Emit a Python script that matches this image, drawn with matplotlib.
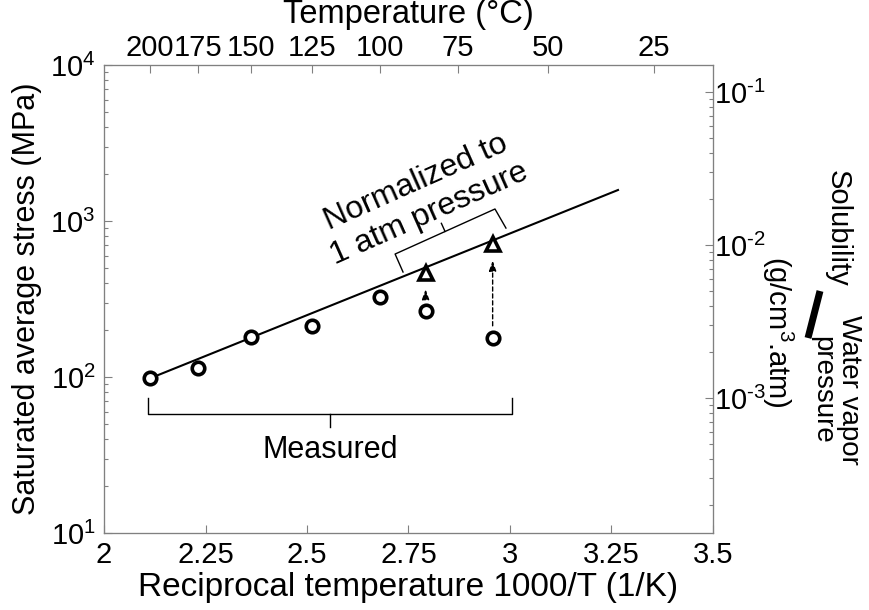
import numpy as np
import matplotlib.pyplot as plt
from matplotlib.ticker import FixedLocator, LogLocator, NullFormatter, FuncFormatter

plt.rcParams['font.family'] = ['Liberation Sans', 'DejaVu Sans']
plt.rcParams['mathtext.fontset'] = 'custom'
plt.rcParams['mathtext.rm'] = 'Liberation Sans'
plt.rcParams['mathtext.default'] = 'regular'

# measured saturated stress vs. test temperature
temp_c = [200, 175, 150, 125, 100, 85, 65]
stress_measured = [98.6, 115, 180, 212, 326, 266, 177]

# 85 and 65 C points normalized to 1 atm water vapor pressure
temp_norm = [85, 65]
stress_norm = [467, 712]

# Arrhenius fit line (end points)
fit_x = [2.113, 3.266]
fit_y = [98, 1580]

top_ticks_c = [200, 175, 150, 125, 100, 75, 50, 25]
bottom_ticks = [2, 2.25, 2.5, 2.75, 3, 3.25, 3.5]
bottom_labels = ['2', '2.25', '2.5', '2.75', '3', '3.25', '3.5']


def recip(t):
    return 1000.0 / (np.asarray(t, dtype=float) + 273.15)


def pow10(v, pos):
    e = int(round(np.log10(v)))
    if e < 0:
        return r'$10^{\text{-}%d}$' % (-e)
    return r'$10^{%d}$' % e


W, H = 870, 610
fig = plt.figure(figsize=(W / 100, H / 100), dpi=100)
ax = fig.add_axes([104 / W, 1 - 533 / H, (713 - 104) / W, (533 - 65) / H])

frame = '#808080'
ax.set_xlim(2, 3.5)
ax.set_yscale('log')
ax.set_ylim(10, 1e4)
for s in ax.spines.values():
    s.set_color(frame)

# fit line + data
ax.plot(fit_x, fit_y, color='black', lw=1.5, zorder=2)
ax.plot(recip(temp_c), stress_measured, 'o', ms=9, mfc='white', mec='black',
        mew=2.6, zorder=4)
ax.plot(recip(temp_norm), stress_norm, '^', ms=10, mfc='white', mec='black',
        mew=2.6, zorder=4)

# dashed arrows measured -> normalized
for t, lo, hi in zip(temp_norm, stress_measured[-2:], stress_norm):
    x = float(recip(t))
    ax.annotate('', xy=(x, hi), xytext=(x, lo),
                arrowprops=dict(arrowstyle='-|>,head_length=0.5,head_width=0.18',
                                linestyle=(0, (3, 2)), lw=1, color='black',
                                shrinkA=9, shrinkB=12, mutation_scale=12),
                zorder=3)

# "Measured" bracket
ax.plot([2.108, 2.108, 3.005, 3.005], [73, 58, 58, 73], color='black', lw=1)
ax.plot([2.557, 2.557], [58, 47.7], color='black', lw=1)
ax.text(2.557, 34, 'Measured', fontsize=22, ha='center', va='center')

# "Normalized" bracket
ax.plot([2.7365, 2.717, 2.963, 2.990], [471, 614, 1194, 901], color='black', lw=1)
ax.plot([2.840, 2.831], [857, 966], color='black', lw=1)
ax.text(2.785, 1400, 'Normalized to\n1 atm pressure', fontsize=23,
        ha='center', va='center', rotation=24, rotation_mode='anchor',
        multialignment='center', linespacing=1.15)

# bottom / left ticks
ax.xaxis.set_major_locator(FixedLocator(bottom_ticks))
ax.set_xticklabels(bottom_labels)
ax.yaxis.set_major_locator(LogLocator(base=10, numticks=10))
ax.yaxis.set_major_formatter(FuncFormatter(pow10))
ax.yaxis.set_minor_locator(LogLocator(base=10, subs=np.arange(2, 10), numticks=10))
ax.yaxis.set_minor_formatter(NullFormatter())
ax.tick_params(axis='both', which='major', direction='in', length=6, width=0.8,
               color=frame, labelsize=21, pad=6)
ax.tick_params(axis='y', which='minor', direction='in', length=3, width=0.8,
               color=frame)
ax.set_xlabel('Reciprocal temperature 1000/T (1/K)', fontsize=24, labelpad=2)
ax.set_ylabel('Saturated average stress (MPa)', fontsize=22, labelpad=6)

# right axis: solubility / water vapor pressure
ax2 = ax.twinx()
ax2.set_yscale('log')
ax2.set_ylim(10 ** -3.88, 10 ** -0.824)
ax2.yaxis.set_major_locator(LogLocator(base=10, numticks=10))
ax2.yaxis.set_major_formatter(FuncFormatter(pow10))
ax2.yaxis.set_minor_locator(LogLocator(base=10, subs=np.arange(2, 10), numticks=10))
ax2.yaxis.set_minor_formatter(NullFormatter())
ax2.tick_params(axis='y', which='major', direction='in', length=6, width=0.8,
                color=frame, labelsize=21, pad=1)
ax2.tick_params(axis='y', which='minor', direction='in', length=3, width=0.8,
                color=frame)
for s in ax2.spines.values():
    s.set_color(frame)

# top axis: temperature in C
ax3 = ax.twiny()
ax3.set_xlim(ax.get_xlim())
ax3.set_xticks(recip(top_ticks_c))
ax3.set_xticklabels([str(t) for t in top_ticks_c])
ax3.tick_params(axis='x', direction='in', length=6, width=0.8, color=frame,
                labelsize=21, pad=2)
ax3.set_xlabel('Temperature (°C)', fontsize=23.5, va='center')
ax3.xaxis.set_label_coords(0.5, 1 + 50 / 468)
for s in ax3.spines.values():
    s.set_color(frame)

# right-hand label written as a fraction
fig.text(838 / W, 1 - 228 / H, 'Solubility', fontsize=21, rotation=-90,
         ha='center', va='center')
fig.text(778 / W, 1 - 332 / H, '(g/cm$^3$.atm)', fontsize=21, rotation=-90,
         ha='center', va='center')
fig.text(836 / W, 1 - 390 / H, 'Water vapor\npressure', fontsize=20,
         rotation=-90, ha='center', va='center', multialignment='center',
         linespacing=1.05)
fig.add_artist(plt.Line2D([808 / W, 820 / W], [1 - 338 / H, 1 - 291 / H],
                          color='black', lw=5, solid_capstyle='butt'))

fig.savefig('out.png', dpi=100)
